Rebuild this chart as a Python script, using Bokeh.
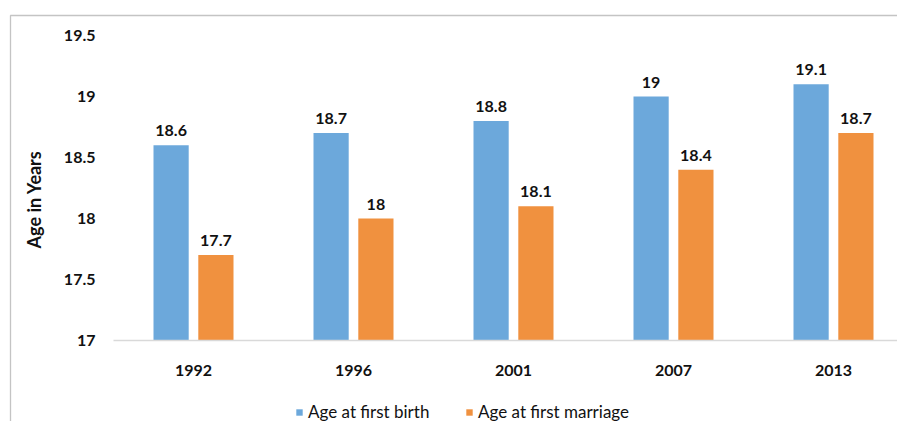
from math import pi
from bokeh.plotting import figure
from bokeh.models import (Range1d, FixedTicker, Label, Legend, LegendItem, ColumnDataSource,
                          BoxAnnotation)
from bokeh.core.properties import value
from bokeh.embed import file_html
from bokeh.resources import INLINE

years = ["1992", "1996", "2001", "2007", "2013"]
age_first_birth = [18.6, 18.7, 18.8, 19.0, 19.1]
age_first_marriage = [17.7, 18.0, 18.1, 18.4, 18.7]
birth_labels = ["18.6", "18.7", "18.8", "19", "19.1"]
marriage_labels = ["17.7", "18", "18.1", "18.4", "18.7"]
y_ticks = [17, 17.5, 18, 18.5, 19, 19.5]
y_tick_labels = ["17", "17.5", "18", "18.5", "19", "19.5"]

BLUE = "#6CA8DB"
ORANGE = "#F0913F"
FONT = "Lato"
TXT = "#111111"

W, H = 897, 421
PX_X = 160.0     # pixels per category
PX_Y = 122.0     # pixels per year of age
LEFT, BASE = 113, 340   # plot origin inside the canvas (px from left / top)

pos = [i + 0.5 for i in range(len(years))]
src_b = ColumnDataSource(dict(x=[q - 0.14 for q in pos], top=age_first_birth, lab=birth_labels))
src_m = ColumnDataSource(dict(x=[q + 0.14 for q in pos], top=age_first_marriage, lab=marriage_labels))

y0 = y_ticks[0]
p = figure(width=W, height=H, output_backend="svg", toolbar_location=None,
           x_range=Range1d(-LEFT / PX_X, (W - LEFT) / PX_X),
           y_range=Range1d(y0 - (H - BASE) / PX_Y, y0 + BASE / PX_Y),
           min_border=0)
p.outline_line_color = None
p.xgrid.grid_line_color = None
p.ygrid.grid_line_color = None

rb = p.vbar(x="x", top="top", bottom=y0, width=0.22, source=src_b, fill_color=BLUE, line_color=None)
rm = p.vbar(x="x", top="top", bottom=y0, width=0.22, source=src_m, fill_color=ORANGE, line_color=None)

for src in (src_b, src_m):
    p.text(x="x", y="top", text="lab", source=src, text_align="center", text_baseline="bottom",
           y_offset=-9, text_font=value(FONT), text_font_size="16px", text_font_style="bold",
           text_color=TXT)

# x axis (drawn at y = 17)
p.xaxis.fixed_location = y0
p.xaxis.bounds = (0, (W - LEFT) / PX_X)
p.xaxis.ticker = FixedTicker(ticks=pos)
p.xaxis.major_label_overrides = {q: y for q, y in zip(pos, years)}
p.xaxis.axis_line_color = "#D9D9D9"
p.xaxis.axis_line_width = 1.5
p.xaxis.major_tick_line_color = None
p.xaxis.minor_tick_line_color = None
p.xaxis.major_label_standoff = 18
p.xaxis.major_label_text_font = FONT
p.xaxis.major_label_text_font_size = "16px"
p.xaxis.major_label_text_font_style = "bold"
p.xaxis.major_label_text_color = TXT

# y axis (drawn at x = 0)
p.yaxis.fixed_location = 0
p.yaxis.ticker = FixedTicker(ticks=y_ticks)
p.yaxis.major_label_overrides = {t: l for t, l in zip(y_ticks, y_tick_labels)}
p.yaxis.axis_line_color = None
p.yaxis.major_tick_line_color = None
p.yaxis.minor_tick_line_color = None
p.yaxis.major_label_standoff = 12
p.yaxis.major_label_text_font = FONT
p.yaxis.major_label_text_font_size = "16px"
p.yaxis.major_label_text_font_style = "bold"
p.yaxis.major_label_text_color = TXT

ytitle = Label(x=33, y=222, x_units="screen", y_units="screen", text="Age in Years", angle=pi / 2,
               text_align="center", text_baseline="middle", text_font=FONT, text_font_size="18px",
               text_font_style="bold", text_color=TXT)
p.add_layout(ytitle)

# outer chart border (left and top edges)
frame_box = BoxAnnotation(left=10, right=W + 20, top=H - 15, bottom=-20,
                          left_units="screen", right_units="screen",
                          top_units="screen", bottom_units="screen",
                          fill_alpha=0, line_color="#3a3a3a", line_width=1.3)
p.add_layout(frame_box)

legend = Legend(items=[LegendItem(label="Age at first birth", renderers=[rb]),
                       LegendItem(label="Age at first marriage", renderers=[rm])],
                location=(295, -1), orientation="horizontal",
                glyph_width=8, glyph_height=8, label_standoff=5, spacing=7, label_width=150,
                padding=0, margin=0, border_line_color=None, background_fill_alpha=0,
                label_text_font=FONT, label_text_font_size="17px", label_text_color=TXT,
                label_height=20)
p.add_layout(legend, "center")

open("out.html", "w").write(file_html(p, INLINE))
